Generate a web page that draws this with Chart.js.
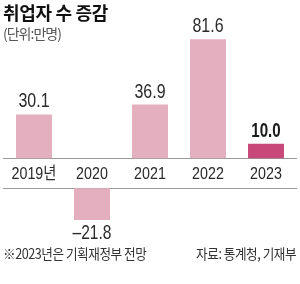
<!DOCTYPE html>
<html>
<head>
<meta charset="utf-8">
<script src="https://cdn.jsdelivr.net/npm/chart.js@4/dist/chart.umd.min.js"></script>
<style>
  html, body { margin: 0; padding: 0; background: #fff; }
  #wrap { position: relative; width: 300px; height: 284px; overflow: hidden; }
  #chart { position: absolute; left: 0; top: 0; }
  .txt { position: absolute; white-space: nowrap; font-family: 'Noto Sans CJK KR', sans-serif; }
  #title { left: 3px; top: -1px; font-size: 18px; font-weight: 700; color: #111; letter-spacing: -0.3px; }
  #unit { left: 3px; top: 23px; font-size: 14px; color: #555; letter-spacing: -1px; }
  #note { left: 3px; top: 243px; font-size: 14px; color: #333; letter-spacing: -0.5px; transform-origin: left top; transform: scaleX(0.9); }
  #source { right: 4px; top: 243px; font-size: 14px; color: #333; letter-spacing: -0.5px; transform-origin: right top; transform: scaleX(0.9); }
</style>
</head>
<body>
<div id="wrap">
  <canvas id="chart" width="300" height="284"></canvas>
  <div class="txt" id="title">취업자 수 증감</div>
  <div class="txt" id="unit">(단위:만명)</div>
  <div class="txt" id="note">※2023년은 기획재정부 전망</div>
  <div class="txt" id="source">자료: 통계청, 기재부</div>
</div>
<script>
// data
const years = ['2019년', '2020', '2021', '2022', '2023'];
const values = [30.1, -21.8, 36.9, 81.6, 10.0];
const valueLabels = ['30.1', '–21.8', '36.9', '81.6', '10.0'];
const highlight = [false, false, false, false, true];

const PINK = '#e4afbe';
const DARK = '#c8487a';
const LINE = '#9a9a9a';
const FONT = "'Liberation Sans', 'Noto Sans CJK KR', sans-serif";

// positive bars sit on the upper zero line, negative ones hang from the lower line
const posValues = values.map(v => (v >= 0 ? v : null));
const negValues = values.map(v => (v < 0 ? v : null));
const barColors = highlight.map(h => (h ? DARK : PINK));

// the print uses a narrow face, so squeeze the text a bit
function squeezedText(ctx, text, x, y, sx) {
  ctx.save();
  ctx.translate(x, y);
  ctx.scale(sx, 1);
  ctx.fillText(text, 0, 0);
  ctx.restore();
}

const zeroLines = {
  id: 'zeroLines',
  beforeDatasetsDraw(chart) {
    const { ctx, scales } = chart;
    ctx.save();
    ctx.strokeStyle = LINE;
    ctx.lineWidth = 1;
    [scales.y, scales.y2].forEach(s => {
      const py = Math.round(s.getPixelForValue(0)) + 0.5;
      ctx.beginPath();
      ctx.moveTo(3, py);
      ctx.lineTo(297, py);
      ctx.stroke();
    });
    ctx.restore();
  }
};

const textLayer = {
  id: 'textLayer',
  afterDatasetsDraw(chart) {
    const { ctx, scales } = chart;
    ctx.save();
    ctx.textAlign = 'center';

    // category labels between the two zero lines
    const top = scales.y.getPixelForValue(0);
    const bottom = scales.y2.getPixelForValue(0);
    ctx.font = '17px ' + FONT;
    ctx.fillStyle = '#2a2a2a';
    ctx.textBaseline = 'middle';
    years.forEach((lab, i) => {
      squeezedText(ctx, lab, scales.x.getPixelForTick(i), (top + bottom) / 2 + 1, 0.84);
    });

    // value labels
    chart.data.datasets.forEach((ds, di) => {
      const meta = chart.getDatasetMeta(di);
      meta.data.forEach((bar, i) => {
        const v = ds.data[i];
        if (v === null || v === undefined) return;
        const bold = highlight[i];
        ctx.font = (bold ? 'bold ' : '') + '21px ' + FONT;
        ctx.fillStyle = bold ? '#1a1a1a' : '#2a2a2a';
        if (v >= 0) {
          ctx.textBaseline = 'alphabetic';
          squeezedText(ctx, valueLabels[i], bar.x, bar.y - 7, bold ? 0.72 : 0.76);
        } else {
          ctx.textBaseline = 'top';
          squeezedText(ctx, valueLabels[i], bar.x, bar.y + 3, 0.74);
        }
      });
    });
    ctx.restore();
  }
};

new Chart(document.getElementById('chart').getContext('2d'), {
  type: 'bar',
  data: {
    labels: years,
    datasets: [
      {
        data: posValues,
        backgroundColor: barColors,
        yAxisID: 'y',
        grouped: false,
        barPercentage: 0.62,
        categoryPercentage: 1
      },
      {
        data: negValues,
        backgroundColor: barColors,
        yAxisID: 'y2',
        grouped: false,
        barPercentage: 0.62,
        categoryPercentage: 1
      }
    ]
  },
  options: {
    responsive: false,
    animation: false,
    events: [],
    layout: { padding: { left: 5, right: 5, top: 30, bottom: 44 } },
    plugins: {
      legend: { display: false },
      tooltip: { enabled: false }
    },
    scales: {
      x: { display: false },
      y: { display: false, min: -56, max: 88 },
      y2: { display: false, min: -35.5, max: 108.5 }
    }
  },
  plugins: [zeroLines, textLayer]
});
</script>
</body>
</html>
